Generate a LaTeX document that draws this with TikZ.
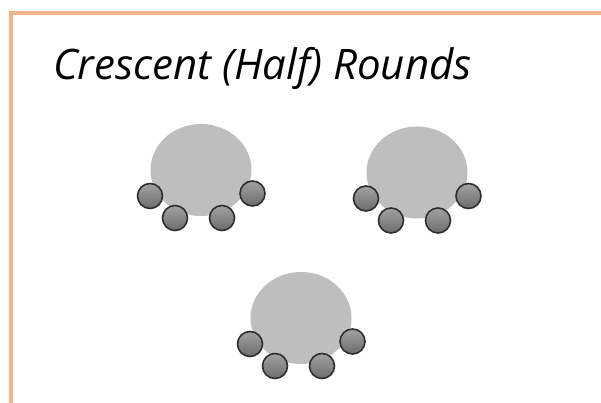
\documentclass[tikz,border=0pt]{standalone}
\usepackage{fontspec}
\setmainfont{Open Sans}
\usetikzlibrary{shapes.geometric}
\definecolor{peach}{HTML}{F0B48C}
\definecolor{tablegray}{HTML}{BEBEBE}
\definecolor{chairtop}{HTML}{A2A2A2}
\definecolor{chairbot}{HTML}{6C6C6C}
\definecolor{chairline}{HTML}{2E2E2E}
\tikzset{
  tablebox/.style={ellipse, fill=tablegray, draw=none, minimum width=101pt, minimum height=92pt, inner sep=0pt},
  chairbox/.style={circle, top color=chairtop, bottom color=chairbot, draw=chairline, line width=1.6pt, minimum size=25pt, inner sep=0pt},
  borderline/.style={draw=peach, line width=4pt}
}
\begin{document}
\begin{tikzpicture}[x=1pt,y=-1pt]
\useasboundingbox (0,0) rectangle (601,403);
\fill[white] (0,0) rectangle (601,403);
\coordinate (bl) at (11,403);
\coordinate (tl) at (11,13);
\coordinate (tr) at (601,13);
\draw[borderline] (bl) -- (tl) -- (tr);
\node[anchor=base, font=\fontsize{42}{50}\selectfont\itshape] (title) at (262.5,80) {Crescent (Half) Rounds};
\foreach \n/\cx/\cy in {1/201/170, 2/417/172.5, 3/301/318}{
  \node[tablebox] (t\n) at (\cx,\cy) {};
  \node[chairbox] (c\n a) at ([shift={(-51,26)}]t\n.center) {};
  \node[chairbox] (c\n b) at ([shift={(-26,48)}]t\n.center) {};
  \node[chairbox] (c\n c) at ([shift={(21,48)}]t\n.center) {};
  \node[chairbox] (c\n d) at ([shift={(51.5,23.5)}]t\n.center) {};
}
\end{tikzpicture}
\end{document}
